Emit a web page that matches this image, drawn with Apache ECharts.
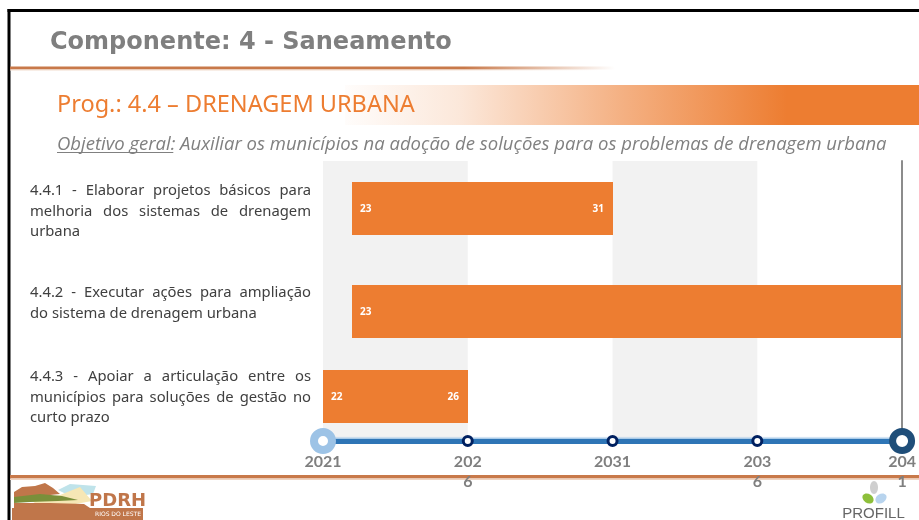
<!DOCTYPE html>
<html>
<head>
<meta charset="utf-8">
<script src="https://cdn.jsdelivr.net/npm/echarts@6/dist/echarts.min.js"></script>
<style>
  html, body { margin: 0; padding: 0; background: #ffffff; }
  #chart { width: 919px; height: 520px; }
</style>
</head>
<body>
<div id="chart"></div>
<script>
// ---- Content -------------------------------------------------------------
const componentTitle = 'Componente: 4 - Saneamento';
const programTitle = 'Prog.: 4.4 – DRENAGEM URBANA';
const objectiveLead = 'Objetivo geral:';
const objectiveText = ' Auxiliar os municípios na adoção de soluções para os problemas de drenagem urbana';

// Actions, broken into the lines of the left column
const activityLines = [
  ['4.4.1 - Elaborar projetos básicos para', 'melhoria dos sistemas de drenagem', 'urbana'],
  ['4.4.2 - Executar ações para ampliação', 'do sistema de drenagem urbana'],
  ['4.4.3 - Apoiar a articulação entre os', 'municípios para soluções de gestão no', 'curto prazo']
];
// First and last year of each action (a year Y occupies the span (Y-1, Y] on the axis)
const startYears = [2023, 2023, 2022];
const endYears = [2031, 2041, 2026];
const showEndLabel = [true, false, true];

// Timeline
const tickYears = [2021, 2026, 2031, 2036, 2041];
const tickLabels = ['2021', '202\n6', '2031', '203\n6', '204\n1'];

// ---- Layout ---------------------------------------------------------------
const baseYear = tickYears[0];
const span = tickYears[tickYears.length - 1] - baseYear;
const step = tickYears[1] - tickYears[0];
const plotLeft = 323, plotRight = 16;
const rowTops = [182, 285, 370];
const rowHeight = 53;
const textTops = [191, 292.7, 376.7];
const textLineHeight = 20.6;
const ORANGE = '#ED7D31';
const RULE = '#C8794A';

const chart = echarts.init(document.getElementById('chart'), null, { renderer: 'canvas' });

// Justified paragraph made of word-level text elements
const measureCtx = document.createElement('canvas').getContext('2d');
function justified(lines, x, y0, width, lh, font, color) {
  const els = [];
  measureCtx.font = font;
  lines.forEach((line, i) => {
    const y = y0 + i * lh;
    if (i === lines.length - 1) {
      els.push({ type: 'text', x: x, y: y, style: { text: line, font: font, fill: color, verticalAlign: 'middle' } });
      return;
    }
    const words = line.split(' ');
    const widths = words.map(w => measureCtx.measureText(w).width);
    const total = widths.reduce((a, b) => a + b, 0);
    const gap = (width - total) / (words.length - 1);
    let cx = x;
    words.forEach((w, j) => {
      els.push({ type: 'text', x: cx, y: y, style: { text: w, font: font, fill: color, verticalAlign: 'middle' } });
      cx += widths[j] + gap;
    });
  });
  return els;
}

const labelFont = '14.8px "Noto Sans"';
let leftText = [];
activityLines.forEach((lines, i) => {
  leftText = leftText.concat(justified(lines, 30, textTops[i], 281, textLineHeight, labelFont, '#404040'));
});

const subFont = 'italic 18.5px "Open Sans"';
measureCtx.font = subFont;
const leadWidth = measureCtx.measureText(objectiveLead).width;

const graphics = [
  // frame
  { type: 'rect', shape: { x: 7.5, y: 9, width: 912, height: 3 }, style: { fill: '#000' } },
  { type: 'rect', shape: { x: 7.5, y: 9, width: 3, height: 511 }, style: { fill: '#000' } },
  // component title and rule
  { type: 'text', x: 50, y: 43, style: { text: componentTitle, font: 'bold 24px "DejaVu Sans"', fill: '#7F7F7F', verticalAlign: 'middle' } },
  { type: 'rect', shape: { x: 10, y: 66.5, width: 605, height: 3 },
    style: { fill: new echarts.graphic.LinearGradient(0, 0, 1, 0, [
      { offset: 0, color: RULE }, { offset: 0.75, color: RULE }, { offset: 1, color: 'rgba(200,121,74,0)' }]) } },
  { type: 'rect', shape: { x: 10, y: 69.5, width: 590, height: 1 },
    style: { fill: new echarts.graphic.LinearGradient(0, 0, 1, 0, [
      { offset: 0, color: '#F1DCCD' }, { offset: 0.7, color: '#F1DCCD' }, { offset: 1, color: 'rgba(241,220,205,0)' }]) } },
  // program banner
  { type: 'rect', shape: { x: 345, y: 85, width: 574, height: 40 },
    style: { fill: new echarts.graphic.LinearGradient(0, 0, 1, 0, [
      { offset: 0, color: 'rgba(237,125,49,0.02)' }, { offset: 0.2, color: 'rgba(237,125,49,0.18)' },
      { offset: 0.48, color: 'rgba(237,125,49,0.6)' }, { offset: 0.77, color: ORANGE }, { offset: 1, color: ORANGE }]) } },
  { type: 'text', x: 57, y: 105.5, style: { text: programTitle, font: '23.5px "Noto Sans"', fill: ORANGE, verticalAlign: 'middle' } },
  // objective
  { type: 'text', x: 57, y: 145, style: { text: objectiveLead + objectiveText, font: subFont, fill: '#808080', verticalAlign: 'middle' } },
  { type: 'rect', shape: { x: 57, y: 152, width: leadWidth - 2, height: 1 }, style: { fill: '#808080' } },
  // bottom rule
  { type: 'rect', shape: { x: 10, y: 475, width: 909, height: 3.5 }, style: { fill: RULE } },
  { type: 'rect', shape: { x: 10, y: 478.5, width: 909, height: 1.5 }, style: { fill: '#EFD3C0' } },
  // PDRH mark
  { type: 'polygon', shape: { points: [[58, 490], [70, 484], [96, 486], [93, 494], [72, 497]] }, style: { fill: '#BFE3EA' } },
  { type: 'polygon', shape: { points: [[14, 492], [22, 487], [35, 486], [45, 483], [53, 488], [60, 494], [40, 496], [14, 498]] }, style: { fill: '#C0764A' } },
  { type: 'polygon', shape: { points: [[30, 500], [60, 495], [80, 487], [92, 501], [70, 505], [40, 506]] }, style: { fill: '#F6E7B5' } },
  { type: 'polygon', shape: { points: [[14, 497], [40, 494], [62, 496], [78, 500], [58, 501], [30, 502], [14, 503]] }, style: { fill: '#7A8F3A' } },
  { type: 'polygon', shape: { points: [[14, 503], [50, 503], [84, 504], [90, 508], [14, 508]] }, style: { fill: '#C0764A' } },
  { type: 'rect', shape: { x: 12, y: 508, width: 131, height: 12 }, style: { fill: '#C0764A' } },
  { type: 'text', x: 89, y: 501, style: { text: 'PDRH', font: 'bold 18px "DejaVu Sans"', fill: '#C0764A', verticalAlign: 'middle' } },
  { type: 'text', x: 118, y: 514, style: { text: 'RIOS DO LESTE', font: '6px "DejaVu Sans"', fill: '#ffffff', align: 'center', verticalAlign: 'middle' } },
  // PROFILL mark
  { type: 'ellipse', shape: { cx: 874, cy: 487.5, rx: 4, ry: 6.5 }, style: { fill: '#CFCFCF' } },
  { type: 'ellipse', shape: { cx: 868, cy: 498.5, rx: 6, ry: 4.5 }, rotation: -0.6, originX: 868, originY: 498.5, style: { fill: '#8DBF3A' } },
  { type: 'ellipse', shape: { cx: 881, cy: 498.5, rx: 6, ry: 4.5 }, rotation: 0.6, originX: 881, originY: 498.5, style: { fill: '#B8D4EE' } },
  { type: 'text', x: 873.5, y: 514, style: { text: 'PROFILL', font: '15px "Liberation Sans"', fill: '#666666', align: 'center', verticalAlign: 'middle' } }
].concat(leftText);

// One small grid per action row, plus the main grid for bands and timeline
const grids = [{ left: plotLeft, right: plotRight, top: 161, bottom: 79 }];
const xAxes = [{
  type: 'value', gridIndex: 0, min: 0, max: span, interval: step,
  axisLine: { show: true, onZero: false, lineStyle: { color: '#2E75B6', width: 5, shadowColor: 'rgba(157,195,230,0.9)', shadowBlur: 1, shadowOffsetY: -1.5 } },
  axisTick: { show: false },
  splitLine: { show: false },
  splitArea: { show: true, areaStyle: { color: ['#F2F2F2', 'rgba(255,255,255,0)'] } },
  axisLabel: {
    formatter: v => { const i = tickYears.indexOf(v + baseYear); return i < 0 ? '' : tickLabels[i]; },
    color: '#7F7F7F', fontWeight: 'bold', fontSize: 16, fontFamily: 'Lato', margin: 11, lineHeight: 20,
    showMinLabel: true, showMaxLabel: true
  }
}];
const yAxes = [{
  type: 'value', gridIndex: 0, min: 0, max: 1, position: 'right', z: 4,
  axisLine: { show: true, onZero: false, lineStyle: { color: '#8C8C8C', width: 2 } },
  axisTick: { show: false }, axisLabel: { show: false }, splitLine: { show: false }
}];
const series = [];

startYears.forEach((s, i) => {
  const g = i + 1;
  grids.push({ left: plotLeft, right: plotRight, top: rowTops[i], height: rowHeight });
  xAxes.push({ type: 'value', gridIndex: g, min: 0, max: span, show: false });
  yAxes.push({ type: 'category', gridIndex: g, data: [''], show: false });
  series.push({
    type: 'custom', xAxisIndex: g, yAxisIndex: g, clip: false, z: 3,
    encode: { x: [0, 1], y: 2 },
    data: [[s, endYears[i], 0]],
    renderItem: (params, api) => {
      const first = api.value(0), last = api.value(1);
      const p0 = api.coord([first - 1 - baseYear, api.value(2)]);
      const p1 = api.coord([last - baseYear, api.value(2)]);
      const h = api.size([0, 1])[1];
      const children = [
        { type: 'rect', shape: { x: p0[0], y: p0[1] - h / 2, width: p1[0] - p0[0], height: h }, style: { fill: ORANGE } },
        { type: 'text', x: p0[0] + 8, y: p0[1] + 0.5,
          style: { text: String(first).slice(2), font: 'bold 10px "Noto Sans"', fill: '#ffffff', verticalAlign: 'middle' } }
      ];
      if (showEndLabel[i]) {
        children.push({ type: 'text', x: p1[0] - 9, y: p1[1] + 0.5,
          style: { text: String(last).slice(2), font: 'bold 10px "Noto Sans"', fill: '#ffffff', align: 'right', verticalAlign: 'middle' } });
      }
      return { type: 'group', children: children };
    }
  });
});

// Timeline markers at every tick
const markerStyle = i => {
  if (i === 0) return { symbolSize: 18, itemStyle: { color: '#ffffff', borderColor: '#9DC3E6', borderWidth: 8, opacity: 1 } };
  if (i === tickYears.length - 1) return { symbolSize: 19, itemStyle: { color: '#ffffff', borderColor: '#1F4E79', borderWidth: 7, opacity: 1 } };
  return { symbolSize: 9, itemStyle: { color: '#ffffff', borderColor: '#002060', borderWidth: 3, opacity: 1 } };
};
series.push({
  type: 'scatter', xAxisIndex: 0, yAxisIndex: 0, clip: false, z: 5, silent: true,
  itemStyle: { opacity: 1 },
  data: tickYears.map((y, i) => Object.assign({ value: [y - baseYear, 0] }, markerStyle(i)))
});

chart.setOption({
  animation: false,
  backgroundColor: '#ffffff',
  grid: grids,
  xAxis: xAxes,
  yAxis: yAxes,
  series: series,
  graphic: graphics
});
</script>
</body>
</html>
